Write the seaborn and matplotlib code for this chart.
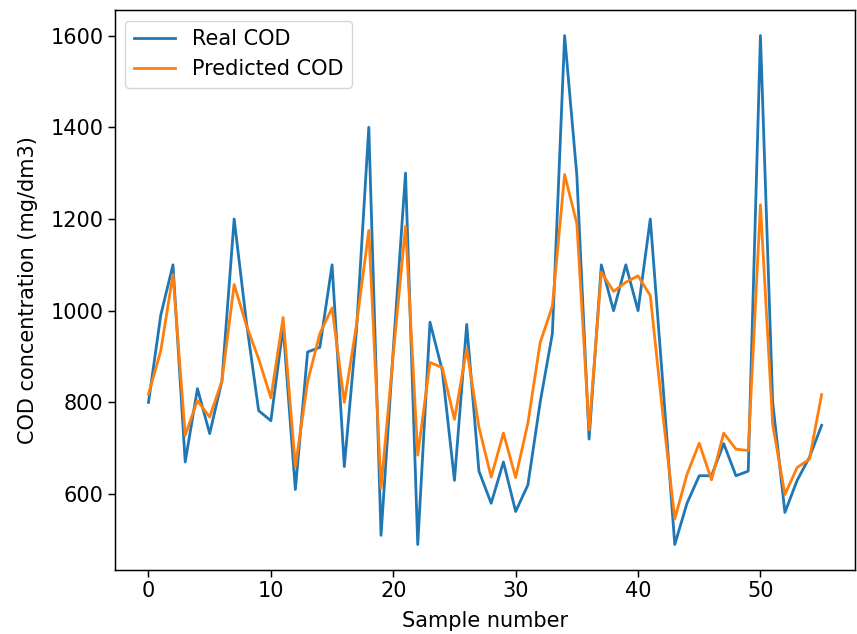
import matplotlib
matplotlib.use("Agg")
import matplotlib.pyplot as plt
import seaborn as sns
import pandas as pd

real_cod = [800, 990, 1100, 670, 830, 732, 847, 1200, 975, 782,
            760, 965, 610, 910, 920, 1100, 660, 960, 1400, 510,
            915, 1300, 490, 975, 870, 630, 970, 650, 580, 670,
            562, 620, 800, 950, 1600, 1295, 720, 1100, 1000, 1100,
            1000, 1200, 850, 490, 580, 640, 640, 710, 640, 650,
            1600, 800, 560, 630, 680, 750]
predicted_cod = [818, 912, 1079, 728, 804, 768, 847, 1057, 968, 895,
                 810, 985, 660, 845, 950, 1006, 800, 970, 1175, 613,
                 905, 1184, 685, 887, 876, 763, 917, 746, 637, 733,
                 636, 755, 930, 1010, 1297, 1190, 740, 1084, 1042, 1062,
                 1076, 1033, 780, 546, 643, 711, 631, 733, 698, 695,
                 1231, 752, 599, 658, 676, 817]
samples = list(range(len(real_cod)))

scale = 1.34
plt.rcParams.update({
    "font.size": 15,
    "lines.linewidth": 1.5 * scale,
    "axes.linewidth": 0.8 * scale,
    "xtick.major.size": 3.5 * scale,
    "ytick.major.size": 3.5 * scale,
    "xtick.major.width": 0.8 * scale,
    "ytick.major.width": 0.8 * scale,
})

df = pd.DataFrame({
    "Sample number": samples * 2,
    "value": real_cod + predicted_cod,
    "series": ["Real COD"] * len(samples) + ["Predicted COD"] * len(samples),
})

fig, ax = plt.subplots(figsize=(8.57, 6.34), dpi=100)
fig.subplots_adjust(left=0.134, right=0.998, top=0.984, bottom=0.101)
sns.lineplot(data=df, x="Sample number", y="value", hue="series",
             palette=["#1f77b4", "#ff7f0e"], ax=ax, linewidth=1.5 * scale)
ax.set_xlabel("Sample number", labelpad=7)
ax.set_ylabel("COD concentration (mg/dm3)", labelpad=9)
ax.legend(loc="upper left", title=None)
fig.savefig("out.png", dpi=100)
